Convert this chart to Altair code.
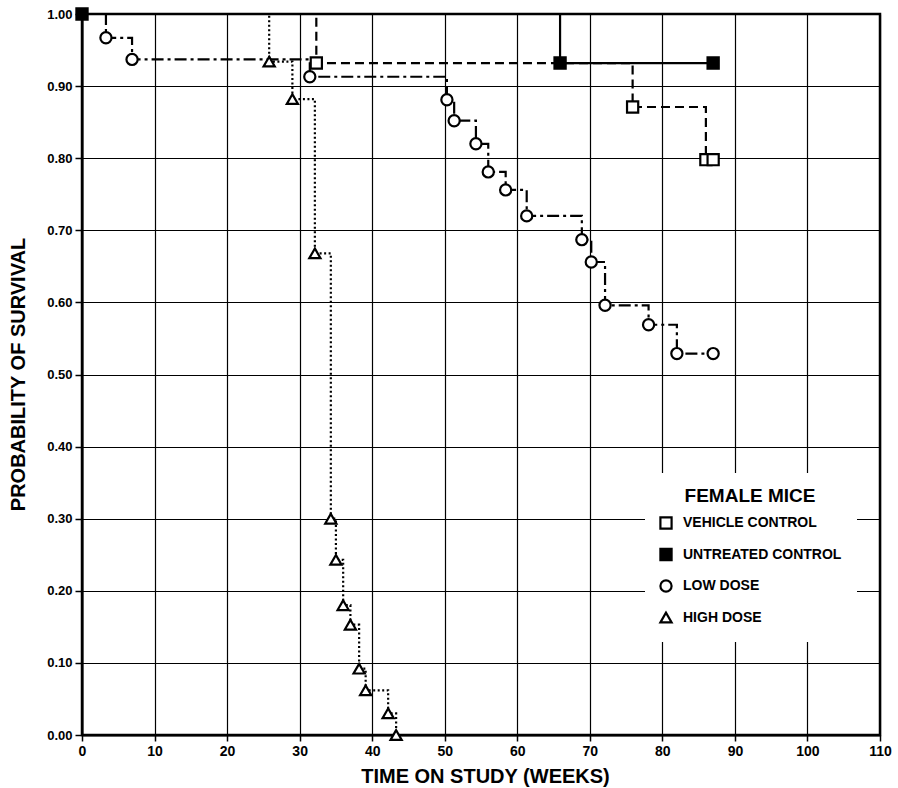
import altair as alt
import pandas as pd

# Kaplan-Meier survival estimates, female mice, by treatment group
groups = ["VEHICLE CONTROL", "UNTREATED CONTROL", "LOW DOSE", "HIGH DOSE"]

vehicle_weeks = [0, 32.3, 75.9, 86.0, 87.0]
vehicle_surv = [1.0, 0.932, 0.871, 0.798, 0.798]

untreated_weeks = [0, 65.9, 87.0]
untreated_surv = [1.0, 0.932, 0.932]

low_weeks = [0, 3.3, 6.9, 31.4, 50.3, 51.3, 54.3, 56.0, 58.4, 61.3,
             68.9, 70.2, 72.1, 78.1, 82.0, 87.0]
low_surv = [1.0, 0.967, 0.937, 0.913, 0.881, 0.852, 0.820, 0.781, 0.756, 0.720,
            0.687, 0.656, 0.596, 0.569, 0.529, 0.529]

high_weeks = [0, 25.8, 29.0, 32.1, 34.3, 35.0, 36.0, 37.0, 38.2, 39.1, 42.2, 43.3]
high_surv = [1.0, 0.934, 0.882, 0.668, 0.300, 0.243, 0.180, 0.153, 0.092, 0.062,
             0.030, 0.0]

x_ticks = list(range(0, 111, 10))
y_ticks = [i / 10 for i in range(11)]

series = {
    "VEHICLE CONTROL": (vehicle_weeks, vehicle_surv),
    "UNTREATED CONTROL": (untreated_weeks, untreated_surv),
    "LOW DOSE": (low_weeks, low_surv),
    "HIGH DOSE": (high_weeks, high_surv),
}

# line style of each group's step curve
dashes = {
    "VEHICLE CONTROL": [9, 5],
    "UNTREATED CONTROL": [1, 0],
    "LOW DOSE": [12, 4, 3, 4],
    "HIGH DOSE": [2, 2.5],
}

rows = []
for name, (weeks, surv) in series.items():
    for i, (w, s) in enumerate(zip(weeks, surv)):
        # a symbol sits at every death / terminal point; the starting
        # point only carries the untreated-control symbol
        marked = i > 0 or name == "UNTREATED CONTROL"
        rows.append({"group": name, "week": w, "survival": s, "marked": marked})
df = pd.DataFrame(rows)

FONT = "Liberation Sans"

x_enc = alt.X(
    "week:Q",
    scale=alt.Scale(domain=[0, 110], nice=False, zero=False),
    axis=alt.Axis(
        values=x_ticks, format="d", title="TIME ON STUDY (WEEKS)",
        labelFlush=False, labelOverlap=False,
        labelFont="Liberation Sans Narrow, Liberation Sans", labelFontSize=14,
        labelPadding=3, tickSize=6,
        titleX=403, titleY=47, titleBaseline="alphabetic",
    ),
)
y_enc = alt.Y(
    "survival:Q",
    scale=alt.Scale(domain=[0, 1], nice=False, zero=False),
    axis=alt.Axis(
        values=y_ticks, format=".2f", title="PROBABILITY OF SURVIVAL",
        labelFlush=False, labelOverlap=False,
        labelFont=FONT, labelFontSize=13,
        labelPadding=3, tickSize=7,
        titleX=-58, titleY=360, titleAngle=270, titleBaseline="alphabetic",
    ),
)

line_layers = [
    alt.Chart(df).transform_filter(alt.datum.group == name).mark_line(
        interpolate="step-after", strokeWidth=2.2, color="black",
        strokeDash=dashes[name],
    ).encode(x=x_enc, y=y_enc)
    for name in groups
]

legend = alt.Legend(
    title="FEMALE MICE", orient="none", legendX=563, legendY=459,
    padding=14, zindex=2, symbolStrokeWidth=2.2,
)

points = alt.Chart(df).transform_filter("datum.marked").mark_point(
    filled=True, strokeWidth=2.2, opacity=1
).encode(
    x=x_enc,
    y=y_enc,
    shape=alt.Shape(
        "group:N",
        scale=alt.Scale(domain=groups,
                        range=["square", "square", "circle", "triangle-up"]),
        legend=legend,
    ),
    fill=alt.Fill(
        "group:N",
        scale=alt.Scale(domain=groups, range=["white", "black", "white", "white"]),
        legend=legend,
    ),
    stroke=alt.Stroke(
        "group:N",
        scale=alt.Scale(domain=groups, range=["black", "black", "black", "black"]),
        legend=legend,
    ),
    size=alt.Size(
        "group:N",
        scale=alt.Scale(domain=groups, range=[125, 125, 110, 170]),
        legend=legend,
    ),
)

chart = alt.layer(*line_layers, points).properties(
    width=798,
    height=721,
    autosize=alt.AutoSizeParams(type="none"),
    padding={"left": 82, "top": 14, "right": 18, "bottom": 53},
).configure_view(
    stroke="black", strokeWidth=2.5,
).configure_axis(
    domainColor="black", domainWidth=2,
    tickColor="black", tickWidth=1.5,
    gridColor="black", gridWidth=1.2, gridOpacity=1, grid=True,
    labelColor="black", labelFontWeight="bold",
    titleColor="black", titleFont=FONT, titleFontSize=20, titleFontWeight="bold",
).configure_legend(
    fillColor="white", strokeColor="white",
    titleFont=FONT, titleFontSize=19, titleFontWeight="bold", titleColor="black",
    titleAnchor="middle", titlePadding=10,
    labelFont=FONT, labelFontSize=14, labelFontWeight="bold", labelColor="black",
    labelOffset=10, rowPadding=11.5,
    symbolOpacity=1,
)

chart.save("out.html", embed_options={"renderer": "svg", "actions": False})
